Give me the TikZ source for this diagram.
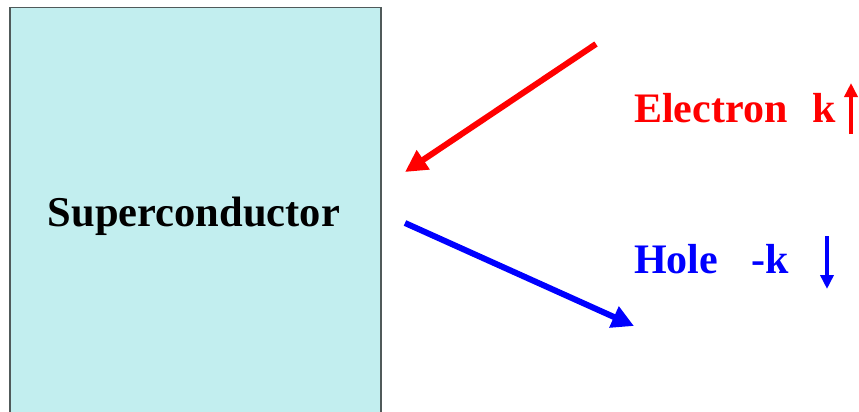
\documentclass[tikz,border=0pt]{standalone}
\usepackage{fontspec}
\setmainfont{Liberation Serif}
\usetikzlibrary{arrows.meta}
\definecolor{scfill}{HTML}{C2EEEF}
\definecolor{myred}{HTML}{FF0000}
\definecolor{myblue}{HTML}{0000FF}
\begin{document}
\begin{tikzpicture}[x=1pt,y=-1pt,
  bigarrow/.style={line width=6pt,-{Triangle[length=22pt,width=22pt]}},
  smallarrow/.style={line width=3.5pt,-{Triangle[length=14pt,width=13pt]}},
  lbl/.style={font=\fontsize{42}{42}\selectfont\bfseries,anchor=base west,inner sep=0pt}]
\useasboundingbox (0,0) rectangle (859,412);
\node[draw={rgb,255:red,80;green,90;blue,90},line width=1.5pt,fill=scfill,minimum width=371pt,minimum height=420pt,anchor=north west,inner sep=0pt] (sc) at (9,7) {};
\node[font=\fontsize{42.5}{42.5}\selectfont\bfseries,anchor=base,inner sep=0pt] (sctext) at (194,226) {Superconductor};
\coordinate (rs) at (596,44);
\coordinate (re) at (405,172);
\coordinate (bs) at (405,223);
\coordinate (be) at (634,326);
\draw[bigarrow,myred] (rs) -- (re);
\draw[bigarrow,myblue] (bs) -- (be);
\node[lbl,text=myred] (el) at (634,122) {Electron};
\node[lbl,text=myred] (ek) at (812,122) {k};
\node[lbl,text=myblue] (ho) at (634,273) {Hole};
\node[lbl,text=myblue] (hk) at (751,273) {-k};
\coordinate (ua) at (851,134);
\coordinate (ub) at (851,83);
\coordinate (da) at (827,236);
\coordinate (db) at (827,289);
\draw[smallarrow,myred] (ua) -- (ub);
\draw[smallarrow,myblue] (da) -- (db);
\end{tikzpicture}
\end{document}
